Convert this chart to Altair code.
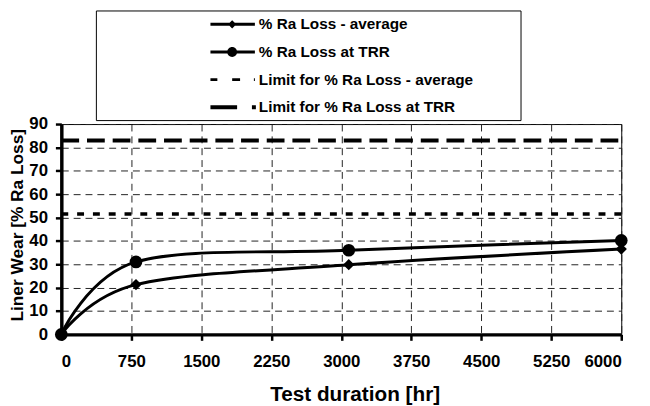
import altair as alt
import pandas as pd

# ---------------- data ----------------
series_names = [
    "% Ra Loss - average",
    "% Ra Loss at TRR",
    "Limit for % Ra Loss - average",
    "Limit for % Ra Loss at TRR",
]
test_hours = [0, 800, 3080, 6000]
ra_loss_average = [0, 21.3, 29.8, 36.5]
ra_loss_trr = [0, 31.0, 36.0, 40.2]
limit_hours = [0, 6000]
limit_average = [51.5, 51.5]
limit_trr = [83.0, 83.0]
x_tick_values = [0, 750, 1500, 2250, 3000, 3750, 4500, 5250, 6000]
y_tick_values = [0, 10, 20, 30, 40, 50, 60, 70, 80, 90]

rows = []
for h, v in zip(test_hours, ra_loss_average):
    rows.append({"series": series_names[0], "hours": h, "loss": v})
for h, v in zip(test_hours, ra_loss_trr):
    rows.append({"series": series_names[1], "hours": h, "loss": v})
for h, v in zip(limit_hours, limit_average):
    rows.append({"series": series_names[2], "hours": h, "loss": v})
for h, v in zip(limit_hours, limit_trr):
    rows.append({"series": series_names[3], "hours": h, "loss": v})
df = pd.DataFrame(rows)

# ---------------- legend symbols (custom paths, 1 unit = 10 px) ----------------
def rect(x1, x2, h):
    return f"M{x1},{-h}L{x2},{-h}L{x2},{h}L{x1},{h}Z"

bound = "M28.8,0"
diamond = "M-0.42,0L0,-0.42L0.42,0L0,0.42Z"
circle = "M-0.5,0A0.5,0.5 0 1,1 0.5,0A0.5,0.5 0 1,1 -0.5,0Z"
legend_paths = [
    bound + rect(-2.2, 2.3, 0.15) + diamond,
    bound + rect(-2.2, 2.3, 0.15) + circle,
    bound + rect(-2.2, -1.5, 0.15) + rect(0, 0.8, 0.15) + rect(2.2, 2.3, 0.15),
    bound + rect(-2.2, 0.5, 0.2) + rect(2.0, 2.4, 0.2),
]

FONT = "Liberation Sans"

x_enc = alt.X(
    "hours:Q",
    scale=alt.Scale(domain=[0, 6000], nice=False, zero=False),
    axis=alt.Axis(
        values=x_tick_values,
        format="d",
        title="Test duration [hr]",
        labelFontSize=17,
        labelBaseline="alphabetic",
        labelPadding=27,
        titleFontSize=21,
        titleX=297,
        titleY=67,
        titleBaseline="alphabetic",
        titleAlign="center",
    ),
)
y_enc = alt.Y(
    "loss:Q",
    scale=alt.Scale(domain=[0, 90], nice=False),
    axis=alt.Axis(
        values=y_tick_values,
        title="Liner Wear [% Ra Loss]",
        labelFontSize=17,
        labelPadding=8,
        titleFontSize=17.5,
        titleAngle=270,
        titleX=-35,
        titleY=102,
        titleBaseline="bottom",
        titleAlign="center",
    ),
)

base = alt.Chart(df)

data_lines = base.transform_filter(
    alt.FieldOneOfPredicate(field="series", oneOf=series_names[:2])
).mark_line(interpolate="cardinal", color="black", strokeWidth=3).encode(
    x=x_enc, y=y_enc, detail="series:N"
)

limit_avg_line = base.transform_filter(
    alt.datum.series == series_names[2]
).mark_line(color="black", strokeWidth=3.5, strokeDash=[7, 9]).encode(x=x_enc, y=y_enc)

limit_trr_line = base.transform_filter(
    alt.datum.series == series_names[3]
).mark_line(color="black", strokeWidth=4, strokeDash=[18, 8]).encode(x=x_enc, y=y_enc)

avg_points = base.transform_filter(
    alt.datum.series == series_names[0]
).mark_point(shape="diamond", filled=True, color="black", opacity=1, size=130).encode(
    x=x_enc, y=y_enc
)

trr_points = base.transform_filter(
    alt.datum.series == series_names[1]
).mark_point(shape="circle", filled=True, color="black", opacity=1, size=165).encode(
    x=x_enc, y=y_enc
)

legend_layer = base.transform_filter("false").mark_point(
    filled=True, color="black", opacity=1
).encode(
    x=x_enc,
    y=y_enc,
    shape=alt.Shape(
        "series:N",
        scale=alt.Scale(domain=series_names, range=legend_paths),
        legend=alt.Legend(
            title=None,
            orient="none",
            legendX=35,
            legendY=-115,
            direction="vertical",
            symbolSize=400,
            symbolStrokeWidth=0,
            symbolFillColor="black",
            symbolOpacity=1,
            symbolOffset=124,
            labelOffset=17,
            labelFont=FONT,
            labelFontSize=15.5,
            labelFontWeight="bold",
            labelColor="black",
            labelLimit=600,
            rowPadding=9,
            padding=4,
            strokeColor="black",
            fillColor="white",
        ),
    ),
)

chart = (
    alt.layer(limit_avg_line, limit_trr_line, data_lines, avg_points, trr_points, legend_layer)
    .properties(
        width=567,
        height=213,
        autosize=alt.AutoSizeParams(type="none"),
        padding={"left": 54, "top": 115, "right": 21, "bottom": 70},
        background="white",
    )
    .configure_view(stroke="black", strokeWidth=1)
    .configure_axis(
        labelFont=FONT,
        titleFont=FONT,
        labelFontWeight="bold",
        titleFontWeight="bold",
        labelColor="black",
        titleColor="black",
        domainColor="black",
        domainWidth=3.5,
        tickColor="black",
        tickWidth=2.5,
        tickSize=6,
        grid=True,
        gridColor="#222222",
        gridDash=[7, 5],
        gridWidth=1,
        gridOpacity=1,
    )
)

chart.save("out.html", embed_options={"renderer": "svg", "actions": False})
